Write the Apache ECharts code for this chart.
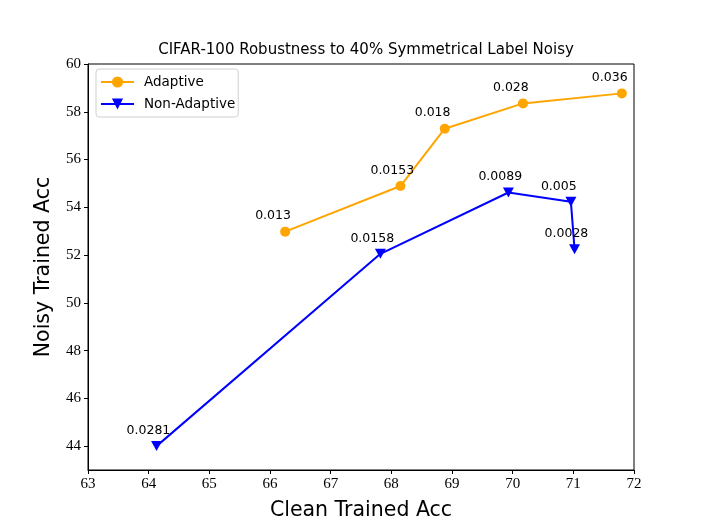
<!DOCTYPE html>
<html><head><meta charset="utf-8">
<script src="https://cdn.jsdelivr.net/npm/echarts@6/dist/echarts.min.js"></script>
<style>html,body{margin:0;padding:0;background:#fff}#c{width:704px;height:528px}</style>
</head><body><div id="c"></div>
<script>
const adaptiveX = [66.25, 68.15, 68.88, 70.17, 71.80];
const adaptiveY = [52.98, 54.89, 57.29, 58.35, 58.77];
const adaptiveLabels = ["0.013", "0.0153", "0.018", "0.028", "0.036"];
const nonAdaptiveX = [64.13, 67.82, 69.93, 70.96, 71.02];
const nonAdaptiveY = [44.0, 52.05, 54.62, 54.23, 52.24];
const nonAdaptiveLabels = ["0.0281", "0.0158", "0.0089", "0.005", "0.0028"];
const xTicks = [63, 64, 65, 66, 67, 68, 69, 70, 71, 72];
const yTicks = [44, 46, 48, 50, 52, 54, 56, 58, 60];

const tri = 'path://M0,0 L10,0 L5,10 Z';
function mk(xs, ys, labs){ return xs.map((x,i)=>({value:[x, ys[i]], lab: labs[i]})); }
const labelCfg = {
  show: true, position: 'top', align: 'left', verticalAlign: 'bottom',
  offset: [-30, 0], distance: 4,
  formatter: p => p.data.lab,
  color: '#000', fontSize: 12.5, fontFamily: 'DejaVu Sans'
};
const chart = echarts.init(document.getElementById('c'));
chart.setOption({
  animation: false,
  title: { text: 'CIFAR-100 Robustness to 40% Symmetrical Label Noisy', left: 361, textAlign: 'center', top: 38,
    textStyle: { fontSize: 15, fontWeight: 'normal', fontFamily: 'DejaVu Sans', color: '#000' } },
  grid: { left: 88, right: 70, top: 64, bottom: 58, show: true, borderColor: '#000', borderWidth: 1,
    containLabel: false, outerBoundsMode: 'none' },
  legend: {
    left: 96, top: 69, orient: 'vertical', itemWidth: 33, itemHeight: 14, itemGap: 8,
    borderColor: '#d0d0d0', borderWidth: 1, borderRadius: 3, padding: [6, 3, 6, 4],
    textStyle: { fontSize: 13.5, fontFamily: 'DejaVu Sans', color: '#000', padding: [0,0,0,5] },
    data: ['Adaptive', 'Non-Adaptive']
  },
  xAxis: {
    type: 'value', min: 63, max: 72, interval: 1,
    name: 'Clean Trained Acc', nameLocation: 'middle', nameGap: 30,
    nameTextStyle: { fontSize: 20.5, fontFamily: 'DejaVu Sans', color: '#000' },
    axisLine: { lineStyle: { color: '#000', width: 1 } },
    axisTick: { inside: false, length: 4, lineStyle: { color: '#000' } },
    axisLabel: { fontSize: 15, fontFamily: 'Liberation Serif', color: '#000', margin: 7,
      formatter: v => xTicks.includes(v) ? String(v) : '' },
    splitLine: { show: false }
  },
  yAxis: {
    type: 'value', min: 43, max: 60, interval: 1,
    name: 'Noisy Trained Acc', nameLocation: 'middle', nameGap: 34,
    nameTextStyle: { fontSize: 20.5, fontFamily: 'DejaVu Sans', color: '#000' },
    axisLine: { lineStyle: { color: '#000', width: 1 } },
    axisTick: { inside: false, length: 4, lineStyle: { color: '#000' },
      customValues: yTicks },
    axisLabel: { fontSize: 15, fontFamily: 'Liberation Serif', color: '#000', margin: 7,
      customValues: yTicks, formatter: v => String(v) },
    splitLine: { show: false }
  },
  series: [
    { name: 'Adaptive', type: 'line', data: mk(adaptiveX, adaptiveY, adaptiveLabels),
      color: '#FFA500', symbol: 'circle', symbolSize: 10, showAllSymbol: true,
      lineStyle: { width: 2, color: '#FFA500' }, itemStyle: { color: '#FFA500' },
      label: labelCfg },
    { name: 'Non-Adaptive', type: 'line', data: mk(nonAdaptiveX, nonAdaptiveY, nonAdaptiveLabels),
      color: '#0000FF', symbol: tri, symbolSize: [11, 10], showAllSymbol: true,
      lineStyle: { width: 2, color: '#0000FF' }, itemStyle: { color: '#0000FF' },
      label: labelCfg }
  ]
});
</script></body></html>
